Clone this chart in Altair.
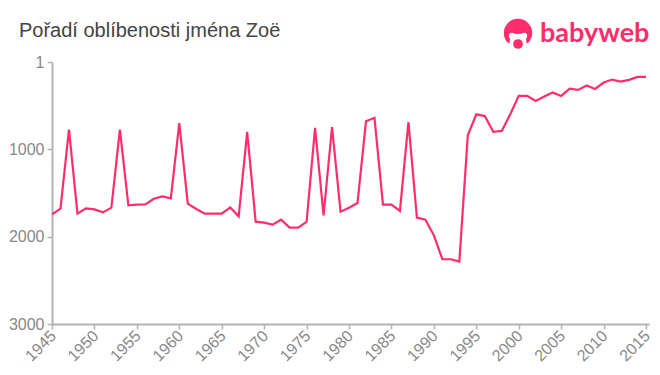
import altair as alt
import pandas as pd

years = list(range(1945, 2016))
ranks = [1745,1680,775,1737,1676,1688,1722,1668,775,1642,1634,1631,1566,1539,1562,700,1623,1683,1737,1737,
         1737,1665,1768,800,1829,1840,1863,1806,1897,1897,1832,755,1756,745,1714,1670,1615,680,640,1634,
         1634,1706,690,1783,1806,1985,2259,2259,2285,840,600,620,800,790,600,389,389,446,396,350,
         389,305,320,270,309,236,202,225,206,171,171]
x_ticks = [1945,1950,1955,1960,1965,1970,1975,1980,1985,1990,1995,2000,2005,2010,2015]
y_ticks = [1,1000,2000,3000]
title = "Pořadí oblíbenosti jména Zoë"
brand = "babyweb"
PINK = "#ff2d6b"

df = pd.DataFrame({"year": years, "rank": ranks})

line = alt.Chart(df).mark_line(color=PINK, strokeWidth=2.2, interpolate="linear").encode(
    x=alt.X("year:Q", scale=alt.Scale(domain=[1945, 2015.35], nice=False, zero=False),
            axis=alt.Axis(values=x_ticks, format="d", labelAngle=-45, labelFontSize=16, labelColor="#888888",
                          labelFont="Liberation Sans", labelOverlap=False, labelAlign="right", labelBaseline="middle",
                          labelPadding=4, labelOffset=1, domainColor="#b3b3b3", domainWidth=2, tickColor="#b3b3b3",
                          tickWidth=1.5, tickSize=5, grid=False, title=None)),
    y=alt.Y("rank:Q", scale=alt.Scale(domain=[3000, 1], nice=False, zero=False),
            axis=alt.Axis(values=y_ticks, format="d", labelFontSize=16, labelColor="#888888",
                          labelFont="Liberation Sans", labelPadding=3, domainColor="#b3b3b3", domainWidth=2,
                          tickColor="#b3b3b3", tickWidth=1.5, tickSize=5, grid=False, title=None)),
)

one = pd.DataFrame({"a": [0]})
OX, OY = 52, 62

def dot(px, py, size, color):
    return alt.Chart(one).mark_circle(color=color, opacity=1, size=size).encode(
        x=alt.value(px - OX), y=alt.value(py - OY))

def label(text, px, py, size, color, font, weight="normal"):
    return alt.Chart(pd.DataFrame({"t": [text]})).mark_text(
        color=color, font=font, fontSize=size, fontWeight=weight, align="left", baseline="alphabetic").encode(
        x=alt.value(px - OX), y=alt.value(py - OY), text="t:N")

cut = alt.Chart(one).mark_rect(color="white").encode(
    x=alt.value(498 - OX), x2=alt.value(538 - OX), y=alt.value(43 - OY), y2=alt.value(52 - OY))

logo = (dot(518, 33, 804, PINK)
        + dot(518, 42, 283, "white")
        + cut
        + dot(512, 36, 40, "white")
        + dot(524, 36, 40, "white")
        + dot(518, 31, 30, PINK)
        + dot(518, 44, 95, PINK))

chart = (line + logo
         + label(brand, 540, 42, 27, PINK, "Lato", "bold")
         + label(title, 19, 37, 20, "#444444", "Liberation Sans")).properties(
    width=597, height=262,
    padding={"left": 44, "top": 54, "right": 3, "bottom": 44},
    autosize=alt.AutoSizeParams(type="none"),
).configure_view(stroke=None)

chart.save("out.html", embed_options={"renderer": "svg", "actions": False})
